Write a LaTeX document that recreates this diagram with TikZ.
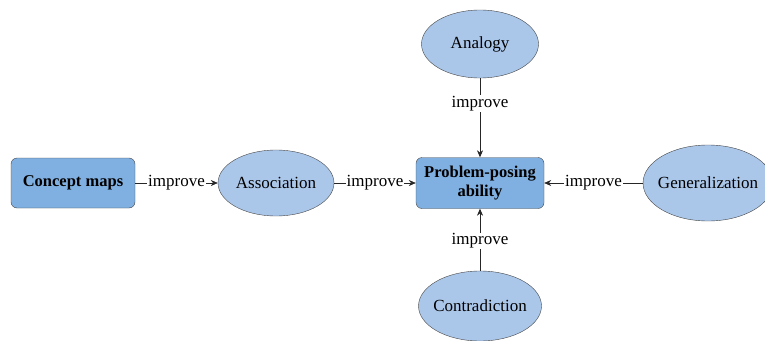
\documentclass[tikz,border=0pt]{standalone}
\usepackage{fontspec}
\setmainfont{Liberation Serif}
\usetikzlibrary{arrows.meta,shapes.geometric}

\definecolor{boxblue}{RGB}{128,176,226}
\definecolor{ellblue}{RGB}{170,199,234}
\definecolor{rim}{RGB}{70,70,70}

\tikzset{
  mainbox/.style={draw=rim, fill=boxblue, rounded corners=6pt, font=\rmfamily\fontsize{16.5}{19}\selectfont\bfseries, align=center, inner sep=0pt},
  skill/.style={draw=rim, fill=ellblue, ellipse, font=\rmfamily\fontsize{17}{19}\selectfont, inner xsep=-30pt, inner ysep=-10pt},
  link/.style={draw=black!85, line width=0.6pt, -{Stealth[length=7pt,width=6pt]}},
  lbl/.style={fill=white, font=\rmfamily\fontsize{17}{19}\selectfont, inner sep=1pt}
}

\begin{document}
\begin{tikzpicture}[x=1pt, y=-1pt]

\useasboundingbox (0,0) rectangle (765,340);

\node[mainbox, minimum width=124pt, minimum height=50pt] (maps) at (73,183) {Concept maps};
\node[skill, minimum width=116pt, minimum height=66pt] (assoc) at (276,183) {Association};
\node[mainbox, minimum width=128pt, minimum height=51pt] (ppa) at (480,183) {Problem-posing\\ability};
\node[skill, minimum width=117pt, minimum height=68pt] (analogy) at (480,44) {Analogy};
\node[skill, minimum width=123pt, minimum height=70pt] (contra) at (480,306) {Contradiction};
\node[skill, minimum width=130pt, minimum height=76pt] (general) at (708,183) {Generalization};

\draw[link] (maps) -- node[lbl] {improve} (assoc);
\draw[link] (assoc) -- node[lbl] {improve} (ppa);
\draw[link] (analogy) -- node[lbl, pos=0.32] {improve} (ppa);
\draw[link] (contra) -- node[lbl, pos=0.48] {improve} (ppa);
\draw[link] (general) -- node[lbl] {improve} (ppa);

\end{tikzpicture}
\end{document}
